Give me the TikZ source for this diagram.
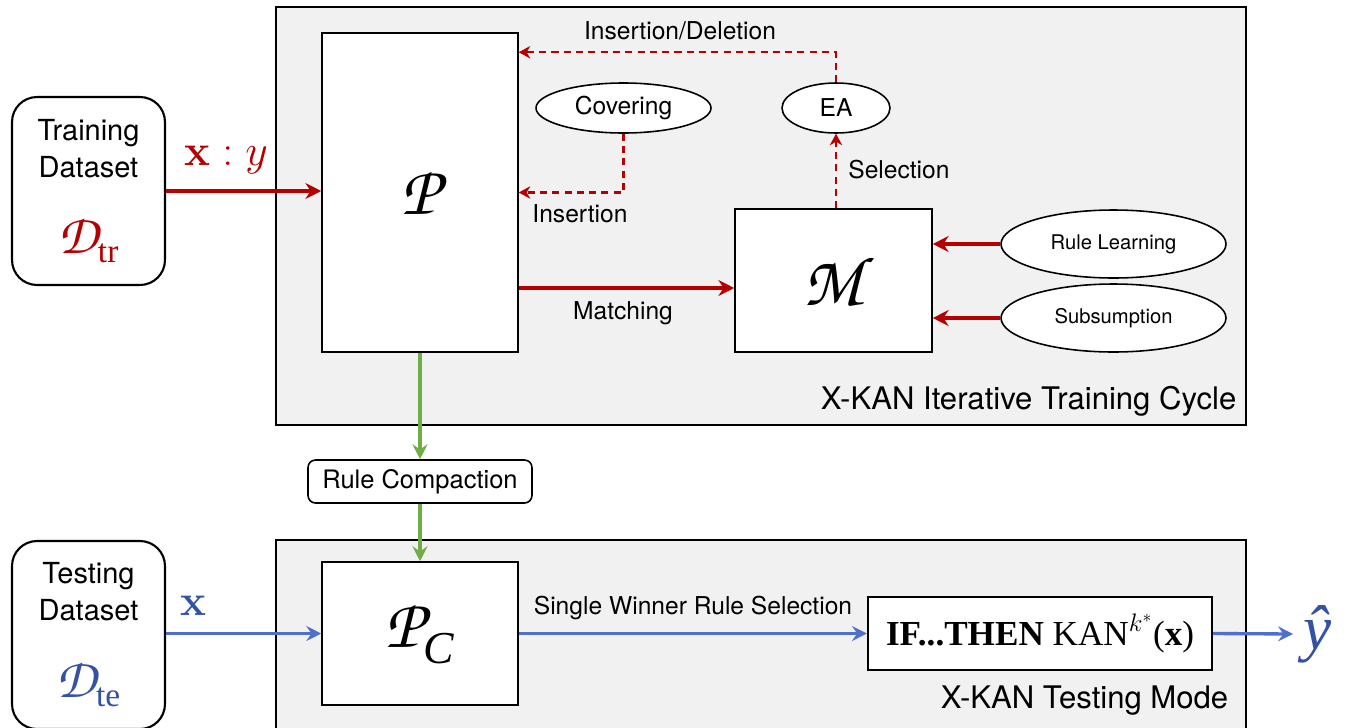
\documentclass[tikz,border=0pt]{standalone}
\usepackage[no-math]{fontspec}
\setmainfont{TeX Gyre Heros}
\newfontfamily\timesrm{Liberation Serif}
\usetikzlibrary{positioning}
\usetikzlibrary{arrows.meta, shapes.geometric}

\definecolor{cyclered}{RGB}{180,0,0}
\definecolor{testblue}{RGB}{78,112,200}
\definecolor{setblue}{RGB}{52,82,165}
\definecolor{compgreen}{RGB}{112,173,71}
\definecolor{panelgray}{RGB}{241,241,241}

% chancery letters for the rule sets
\newcommand{\chanc}[1]{{\usefont{OT1}{pzc}{mb}{it}#1}}

\tikzset{
  panel/.style={draw=black, line width=0.8pt, fill=panelgray, inner sep=0},
  dataset/.style={draw=black, line width=1.2pt, rounded corners=0.5cm, fill=white, inner sep=0,
    minimum width=3.06cm, minimum height=3.76cm},
  block/.style={draw=black, line width=0.9pt, fill=white, inner sep=0},
  oval/.style={ellipse, draw=black, line width=0.9pt, fill=white, inner sep=0},
  lbl/.style={inner sep=0, font=\fontsize{14}{17}\selectfont},
  redarrow/.style={draw=cyclered, line width=2.2pt, -{Stealth[length=9pt,width=9pt,inset=3pt]}},
  reddash/.style={draw=cyclered, line width=1.3pt, dash pattern=on 4pt off 3pt,
    -{Stealth[length=6.5pt,width=7pt,inset=2pt]}},
  bluearrow/.style={draw=testblue, line width=1.9pt, -{Stealth[length=8.5pt,width=8.5pt,inset=3pt]}},
  greenarrow/.style={draw=compgreen, line width=1.9pt, -{Stealth[length=8.5pt,width=8.5pt,inset=3pt]}}
}

\begin{document}
\begin{tikzpicture}[x=0.02cm, y=-0.02cm]
  \clip (0,0) rectangle (1348,727);

  % the two panels
  \node[panel, minimum width=19.4cm, minimum height=8.36cm] (cycle) at (761,216) {};
  \node[panel, minimum width=19.4cm, minimum height=3.9cm] (testing) at (761,637.5) {};
  \node[inner sep=0, anchor=base east, font=\fontsize{17.7}{20}\selectfont] (cyclelbl)
    at ([shift={(-0.2cm,0.32cm)}]cycle.south east) {X-KAN Iterative Training Cycle};
  \node[inner sep=0, anchor=base east, font=\fontsize{17.7}{20}\selectfont] (testlbl)
    at ([shift={(-0.36cm,0.54cm)}]testing.south east) {X-KAN Testing Mode};

  % data sets
  \node[dataset] (train) at (88.5,191) {};
  \node[inner sep=0, align=center, font=\fontsize{16.5}{21}\selectfont] (trainname) at (88.5,149) {Training\\Dataset};
  \node[inner sep=0, text=cyclered] (trainsym) at (88.5,240)
    {{\fontsize{32}{32}\selectfont\chanc{D}}{\timesrm\fontsize{19}{19}\selectfont\raisebox{-0.25em}{tr}}};
  \node[dataset] (test) at (88.5,635) {};
  \node[inner sep=0, align=center, font=\fontsize{16.5}{21}\selectfont] (testname) at (88.5,592) {Testing\\Dataset};
  \node[inner sep=0, text=setblue] (testsym) at (88.5,684)
    {{\fontsize{32}{32}\selectfont\chanc{D}}{\timesrm\fontsize{19}{19}\selectfont\raisebox{-0.25em}{te}}};

  % population, match set and the ovals around them
  \node[block, minimum width=3.92cm, minimum height=6.38cm] (pool) at (420,192.5)
    {\fontsize{40}{40}\selectfont\chanc{P}};
  \node[block, minimum width=3.94cm, minimum height=2.86cm] (match) at (833.5,280.5)
    {\fontsize{40}{40}\selectfont\chanc{M}};
  \node[oval, minimum width=3.5cm, minimum height=1cm, font=\fontsize{14}{17}\selectfont] (cover) at (623.5,108) {Covering};
  \node[oval, minimum width=2.16cm, minimum height=1cm, font=\fontsize{14}{17}\selectfont] (ea) at (836,108) {EA};
  \node[oval, minimum width=4.5cm, minimum height=1.36cm, font=\fontsize{11.5}{14}\selectfont] (learn) at (1113.5,244) {Rule Learning};
  \node[oval, minimum width=4.5cm, minimum height=1.36cm, font=\fontsize{11.5}{14}\selectfont] (subsume) at (1113.5,318) {Subsumption};

  % compaction and testing
  \node[block, rounded corners=0.15cm, minimum width=4.48cm, minimum height=0.86cm,
    font=\fontsize{14.5}{17}\selectfont] (compact) at (420,481.5) {Rule Compaction};
  \node[block, minimum width=3.92cm, minimum height=2.86cm] (poolc) at (420,633.5)
    {\fontsize{40}{40}\selectfont\chanc{P}{\timesrm\itshape\fontsize{26}{26}\selectfont\raisebox{-0.35em}{C}}};
  \node[block, line width=1.3pt, minimum width=6.88cm, minimum height=1.46cm] (ifthen) at (1040,633.5)
    {\timesrm\fontsize{20}{24}\selectfont\textbf{IF...THEN} KAN$^{k^*}$(\textbf{x})};
  \node[inner sep=0, anchor=west, text=setblue] (yhat) at (1303,634)
    {\timesrm\itshape\fontsize{36}{36}\selectfont\^{y}};

  % training connectors
  \draw[redarrow] (train.east) -- (train.east -| pool.west);
  \node[inner sep=0, text=cyclered] (xylbl) at (226,160) {\fontsize{24.88}{25}\selectfont$\mathbf{x} : y$};
  \coordinate (mtin) at ([yshift=-0.15cm]match.west);
  \draw[redarrow] (pool.east |- mtin) -- (mtin);
  \node[lbl] (matchlbl) at (623,313) {Matching};
  \draw[reddash] (cover.south) |- (pool.east);
  \node[lbl] (inslbl) at (580,214) {Insertion};
  \coordinate (pooltop) at ([yshift=-0.4cm]pool.north east);
  \draw[reddash] (ea.north) |- (pooltop);
  \node[lbl] (insdellbl) at (680,31) {Insertion/Deletion};
  \draw[reddash] (match.north -| ea.south) -- (ea.south);
  \node[lbl, anchor=west] (sellbl) at (848,170) {Selection};
  \draw[redarrow] (learn.west) -- (learn.west -| match.east);
  \draw[redarrow] (subsume.west) -- (subsume.west -| match.east);

  % compaction
  \draw[greenarrow] (pool.south) -- (compact.north);
  \draw[greenarrow] (compact.south) -- (poolc.north);

  % testing connectors
  \draw[bluearrow] (test.east |- poolc.west) -- (poolc.west);
  \node[inner sep=0, text=setblue] (xlbl) at (193,606) {\fontsize{24.88}{25}\selectfont$\mathbf{x}$};
  \draw[bluearrow] (poolc.east) -- (ifthen.west);
  \node[lbl] (winlbl) at (693,608) {Single Winner Rule Selection};
  \draw[bluearrow] (ifthen.east) -- ([xshift=-0.2cm]yhat.west);
\end{tikzpicture}
\end{document}
